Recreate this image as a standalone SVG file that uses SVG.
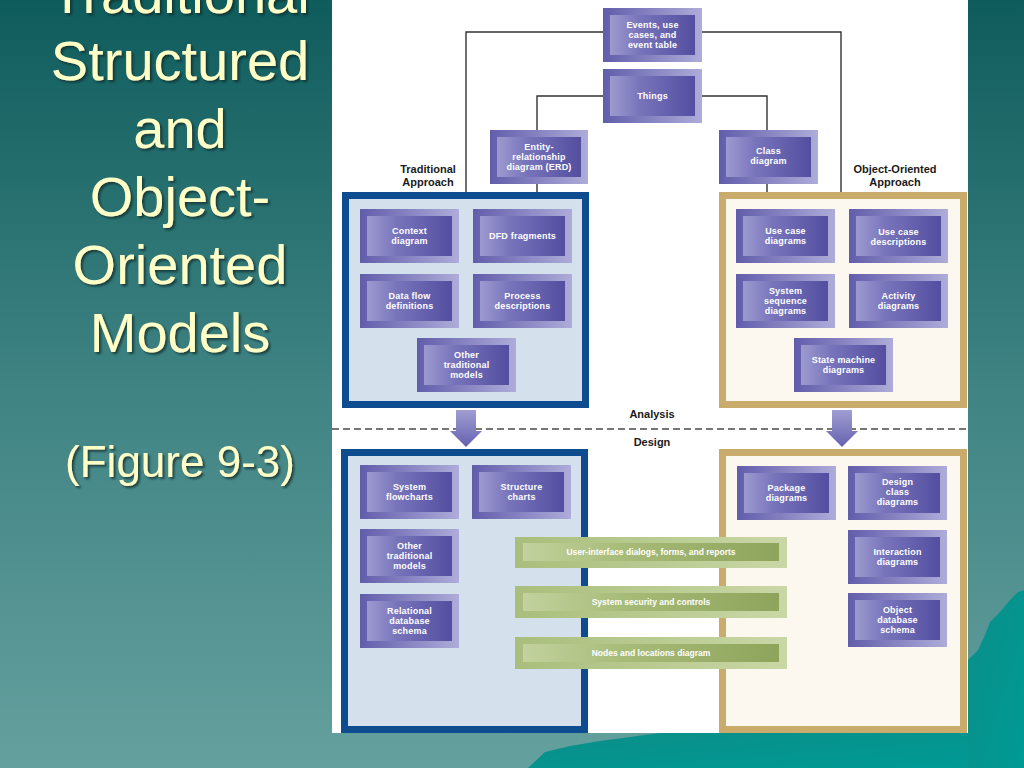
<svg xmlns="http://www.w3.org/2000/svg" width="1024" height="768" viewBox="0 0 1024 768">
<defs>
<linearGradient id="bg" x1="0" y1="0" x2="0" y2="1">
<stop offset="0" stop-color="#0f5c5c"/>
<stop offset="0.5" stop-color="#3f8383"/>
<stop offset="1" stop-color="#64a09e"/>
</linearGradient>
<linearGradient id="mtn" x1="0" y1="0" x2="1" y2="1">
<stop offset="0" stop-color="#0b8e89"/>
<stop offset="1" stop-color="#009a94"/>
</linearGradient>
<linearGradient id="outerG" x1="0" y1="0" x2="1" y2="0">
<stop offset="0" stop-color="#625dab"/>
<stop offset="1" stop-color="#aeacd9"/>
</linearGradient>
<linearGradient id="innerG" x1="0" y1="0" x2="1" y2="0">
<stop offset="0" stop-color="#9d9ad0"/>
<stop offset="0.35" stop-color="#7874bb"/>
<stop offset="1" stop-color="#534ea0"/>
</linearGradient>
<linearGradient id="greenOuter" x1="0" y1="0" x2="1" y2="0">
<stop offset="0" stop-color="#a9be7c"/>
<stop offset="1" stop-color="#c9d7a6"/>
</linearGradient>
<linearGradient id="greenInner" x1="0" y1="0" x2="1" y2="0">
<stop offset="0" stop-color="#c3d29e"/>
<stop offset="0.4" stop-color="#a7bb78"/>
<stop offset="1" stop-color="#8ea45b"/>
</linearGradient>
<linearGradient id="arrowG" x1="0" y1="0" x2="0" y2="1">
<stop offset="0" stop-color="#a19ed3"/>
<stop offset="1" stop-color="#6561b0"/>
</linearGradient>
<filter id="shadow" x="-10%" y="-10%" width="130%" height="130%">
<feDropShadow dx="2" dy="2" stdDeviation="0.8" flood-color="#0a2a2a" flood-opacity="0.75"/>
</filter>
<style>
.title{font-family:"Liberation Sans",Arial,sans-serif;font-size:56px;fill:#ffffc8;text-anchor:middle}
.fig{font-family:"Liberation Sans",Arial,sans-serif;font-size:44px;fill:#ffffc8;text-anchor:middle}
.outer{fill:url(#outerG)}
.inner{fill:url(#innerG)}
.lbl{font-family:"Liberation Sans",Arial,sans-serif;font-size:9px;font-weight:bold;fill:#ffffff;text-anchor:middle;letter-spacing:0.2px}
.head{font-family:"Liberation Sans",Arial,sans-serif;font-size:11px;font-weight:bold;fill:#1a1a1a;text-anchor:middle}
.tradBox{fill:#d4e0ec;stroke:#0d4c8f;stroke-width:7}
.ooBox{fill:#fcf8f0;stroke:#c9ab6c;stroke-width:7}
.conn{fill:none;stroke:#333333;stroke-width:1.4}
.gout{fill:url(#greenOuter)}
.gin{fill:url(#greenInner)}
.glbl{font-family:"Liberation Sans",Arial,sans-serif;font-size:8.5px;font-weight:bold;fill:#ffffff;text-anchor:middle}
.arrow{fill:url(#arrowG)}
</style>
</defs>

<!-- background -->
<rect x="0" y="0" width="1024" height="768" fill="url(#bg)"/>
<path d="M 968 660 L 978 650 L 985 635 L 990 622 L 1000 612 L 1010 600 L 1018 592 L 1024 590 L 1024 768 L 968 768 Z" fill="url(#mtn)"/>
<path d="M 528 768 L 545 752 L 570 746 L 600 741 L 630 737 L 660 733 L 968 733 L 968 768 Z" fill="url(#mtn)"/>

<!-- title -->
<g id="title" filter="url(#shadow)">
<text class="title" x="180" y="13">Traditional</text>
<text class="title" x="180" y="80">Structured</text>
<text class="title" x="180" y="148">and</text>
<text class="title" x="180" y="216">Object-</text>
<text class="title" x="180" y="284">Oriented</text>
<text class="title" x="180" y="352">Models</text>
<text class="fig" x="180" y="477">(Figure 9-3)</text>
</g>

<!-- figure panel -->
<rect x="332" y="0" width="636" height="733" fill="#ffffff"/>

<!-- containers -->
<g id="trad-analysis"><rect class="tradBox" x="345.5" y="195.5" width="240" height="209"/></g>
<g id="oo-analysis"><rect class="ooBox" x="722.5" y="195.5" width="241" height="209"/></g>
<g id="trad-design"><rect class="tradBox" x="344.5" y="452.5" width="240" height="277"/></g>
<g id="oo-design"><rect class="ooBox" x="722.5" y="452.5" width="241" height="277"/></g>

<!-- headings -->
<g id="heading-trad"><text class="head" x="428" y="173">Traditional</text><text class="head" x="428" y="186">Approach</text></g>
<g id="heading-oo"><text class="head" x="895" y="173">Object-Oriented</text><text class="head" x="895" y="186">Approach</text></g>
<g id="phase-labels"><text class="head" x="652" y="418">Analysis</text><text class="head" x="652" y="446">Design</text></g>

<!-- connectors -->
<g id="connectors">
<polyline class="conn" points="603,32 466,32 466,192"/>
<polyline class="conn" points="702,32 841,32 841,192"/>
<polyline class="conn" points="603,96 537,96 537,130"/>
<polyline class="conn" points="702,96 767,96 767,130"/>
<line class="conn" x1="537" y1="184" x2="537" y2="192"/>
<line class="conn" x1="767" y1="184" x2="767" y2="192"/>
<line x1="332" y1="429" x2="968" y2="429" stroke="#4a4a4a" stroke-width="1.6" stroke-dasharray="7,4"/>
<path class="arrow" d="M 456 410 L 476 410 L 476 431 L 482 431 L 466 447 L 450 431 L 456 431 Z"/>
<path class="arrow" d="M 832 410 L 852 410 L 852 431 L 858 431 L 842 447 L 826 431 L 832 431 Z"/>
</g>

<!-- top nodes -->
<g id="events"><rect class="outer" x="603" y="8" width="99" height="54"/><rect class="inner" x="610" y="15" width="85" height="40"/>
<text class="lbl" x="652.5" y="28">Events, use</text><text class="lbl" x="652.5" y="38">cases, and</text><text class="lbl" x="652.5" y="48">event table</text></g>
<g id="things"><rect class="outer" x="603" y="69" width="99" height="54"/><rect class="inner" x="610" y="76" width="85" height="40"/>
<text class="lbl" x="652.5" y="99">Things</text></g>
<g id="erd"><rect class="outer" x="490" y="130" width="98" height="54"/><rect class="inner" x="497" y="137" width="84" height="40"/>
<text class="lbl" x="539" y="150">Entity-</text><text class="lbl" x="539" y="160">relationship</text><text class="lbl" x="539" y="170">diagram (ERD)</text></g>
<g id="class-diagram"><rect class="outer" x="719" y="130" width="99" height="54"/><rect class="inner" x="726" y="137" width="85" height="40"/>
<text class="lbl" x="768.5" y="154">Class</text><text class="lbl" x="768.5" y="164">diagram</text></g>

<!-- traditional analysis nodes -->
<g id="context"><rect class="outer" x="360" y="209" width="99" height="54"/><rect class="inner" x="367" y="216" width="85" height="40"/>
<text class="lbl" x="409.5" y="234">Context</text><text class="lbl" x="409.5" y="244">diagram</text></g>
<g id="dfd"><rect class="outer" x="473" y="209" width="99" height="54"/><rect class="inner" x="480" y="216" width="85" height="40"/>
<text class="lbl" x="522.5" y="239">DFD fragments</text></g>
<g id="dataflow"><rect class="outer" x="360" y="274" width="99" height="54"/><rect class="inner" x="367" y="281" width="85" height="40"/>
<text class="lbl" x="409.5" y="299">Data flow</text><text class="lbl" x="409.5" y="309">definitions</text></g>
<g id="process"><rect class="outer" x="473" y="274" width="99" height="54"/><rect class="inner" x="480" y="281" width="85" height="40"/>
<text class="lbl" x="522.5" y="299">Process</text><text class="lbl" x="522.5" y="309">descriptions</text></g>
<g id="other-trad-a"><rect class="outer" x="417" y="338" width="99" height="54"/><rect class="inner" x="424" y="345" width="85" height="40"/>
<text class="lbl" x="466.5" y="358">Other</text><text class="lbl" x="466.5" y="368">traditional</text><text class="lbl" x="466.5" y="378">models</text></g>

<!-- OO analysis nodes -->
<g id="usecase-diag"><rect class="outer" x="736" y="209" width="99" height="54"/><rect class="inner" x="743" y="216" width="85" height="40"/>
<text class="lbl" x="785.5" y="234">Use case</text><text class="lbl" x="785.5" y="244">diagrams</text></g>
<g id="usecase-desc"><rect class="outer" x="849" y="209" width="99" height="54"/><rect class="inner" x="856" y="216" width="85" height="40"/>
<text class="lbl" x="898.5" y="235">Use case</text><text class="lbl" x="898.5" y="245">descriptions</text></g>
<g id="ssd"><rect class="outer" x="736" y="274" width="99" height="54"/><rect class="inner" x="743" y="281" width="85" height="40"/>
<text class="lbl" x="785.5" y="294">System</text><text class="lbl" x="785.5" y="304">sequence</text><text class="lbl" x="785.5" y="314">diagrams</text></g>
<g id="activity"><rect class="outer" x="849" y="274" width="99" height="54"/><rect class="inner" x="856" y="281" width="85" height="40"/>
<text class="lbl" x="898.5" y="299">Activity</text><text class="lbl" x="898.5" y="309">diagrams</text></g>
<g id="statemachine"><rect class="outer" x="794" y="338" width="99" height="54"/><rect class="inner" x="801" y="345" width="85" height="40"/>
<text class="lbl" x="843.5" y="363">State machine</text><text class="lbl" x="843.5" y="373">diagrams</text></g>

<!-- traditional design nodes -->
<g id="sysflow"><rect class="outer" x="360" y="465" width="99" height="54"/><rect class="inner" x="367" y="472" width="85" height="40"/>
<text class="lbl" x="409.5" y="490">System</text><text class="lbl" x="409.5" y="500">flowcharts</text></g>
<g id="structure"><rect class="outer" x="472" y="465" width="99" height="54"/><rect class="inner" x="479" y="472" width="85" height="40"/>
<text class="lbl" x="521.5" y="490">Structure</text><text class="lbl" x="521.5" y="500">charts</text></g>
<g id="other-trad-d"><rect class="outer" x="360" y="529" width="99" height="54"/><rect class="inner" x="367" y="536" width="85" height="40"/>
<text class="lbl" x="409.5" y="549">Other</text><text class="lbl" x="409.5" y="559">traditional</text><text class="lbl" x="409.5" y="569">models</text></g>
<g id="reldb"><rect class="outer" x="360" y="594" width="99" height="54"/><rect class="inner" x="367" y="601" width="85" height="40"/>
<text class="lbl" x="409.5" y="614">Relational</text><text class="lbl" x="409.5" y="624">database</text><text class="lbl" x="409.5" y="634">schema</text></g>

<!-- OO design nodes -->
<g id="package"><rect class="outer" x="737" y="466" width="99" height="54"/><rect class="inner" x="744" y="473" width="85" height="40"/>
<text class="lbl" x="786.5" y="491">Package</text><text class="lbl" x="786.5" y="501">diagrams</text></g>
<g id="designclass"><rect class="outer" x="848" y="466" width="99" height="54"/><rect class="inner" x="855" y="473" width="85" height="40"/>
<text class="lbl" x="897.5" y="485">Design</text><text class="lbl" x="897.5" y="495">class</text><text class="lbl" x="897.5" y="505">diagrams</text></g>
<g id="interaction"><rect class="outer" x="848" y="530" width="99" height="54"/><rect class="inner" x="855" y="537" width="85" height="40"/>
<text class="lbl" x="897.5" y="555">Interaction</text><text class="lbl" x="897.5" y="565">diagrams</text></g>
<g id="objectdb"><rect class="outer" x="848" y="593" width="99" height="54"/><rect class="inner" x="855" y="600" width="85" height="40"/>
<text class="lbl" x="897.5" y="613">Object</text><text class="lbl" x="897.5" y="623">database</text><text class="lbl" x="897.5" y="633">schema</text></g>

<!-- shared green bars -->
<g id="ui-bar"><rect class="gout" x="515" y="537" width="272" height="31"/><rect class="gin" x="523" y="543" width="256" height="18"/>
<text class="glbl" x="651" y="555">User-interface dialogs, forms, and reports</text></g>
<g id="security-bar"><rect class="gout" x="515" y="586" width="272" height="32"/><rect class="gin" x="523" y="593" width="256" height="18"/>
<text class="glbl" x="651" y="605">System security and controls</text></g>
<g id="nodes-bar"><rect class="gout" x="515" y="637" width="272" height="32"/><rect class="gin" x="523" y="644" width="256" height="18"/>
<text class="glbl" x="651" y="656">Nodes and locations diagram</text></g>
</svg>
